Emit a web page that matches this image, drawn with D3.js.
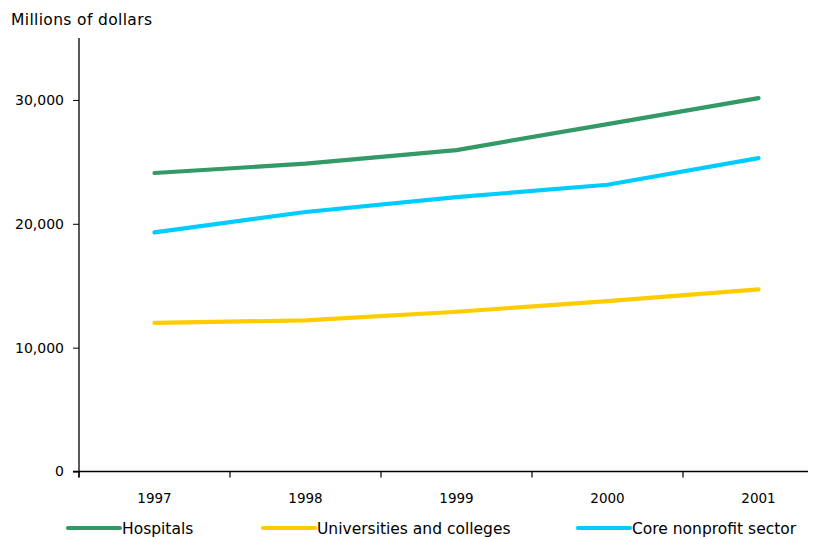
<!DOCTYPE html>
<html>
<head>
<meta charset="utf-8">
<script src="https://cdn.jsdelivr.net/npm/d3@7"></script>
<style>
  body { margin: 0; background: #fff; }
  svg text { font-family: "DejaVu Sans", Verdana, sans-serif; fill: #000; }
</style>
</head>
<body>
<div class="chart-div"></div>
<script>
'use strict';

var years = ["1997", "1998", "1999", "2000", "2001"];
var hospitals = [24100, 24850, 25950, 28050, 30150];
var universities = [12000, 12200, 12900, 13750, 14700];
var coreNonprofit = [19300, 20950, 22150, 23150, 25300];
var yTicks = [0, 10000, 20000, 30000];

var seriesNames = ["Hospitals", "Universities and colleges", "Core nonprofit sector"];
var seriesColors = ["#339966", "#ffcc00", "#00ccff"];

var width = 820;
var height = 539;

function main() {
    var svg = d3.select(".chart-div").append("svg")
        .attr("width", width)
        .attr("height", height);

    // band scale, Excel-style: ticks between categories
    var x = d3.scaleBand()
        .domain(years)
        .range([79, 834]);

    var y = d3.scaleLinear()
        .domain([0, 35000])
        .range([471.5, 38]);

    // title
    svg.append("text")
        .attr("x", 11)
        .attr("y", 25)
        .attr("font-size", "15.5px")
        .attr("textLength", 141)
        .text("Millions of dollars");

    // y axis
    var yAxis = svg.append("g")
        .attr("transform", "translate(79,0)")
        .call(d3.axisLeft(y).tickValues(yTicks).tickSize(6).tickPadding(9)
            .tickFormat(d3.format(",")));
    yAxis.select(".domain").remove();
    yAxis.selectAll("text").attr("font-size", "14px").attr("font-family", "DejaVu Sans");
    yAxis.selectAll("line").attr("stroke", "#000");

    svg.append("line")
        .attr("x1", 79).attr("x2", 79)
        .attr("y1", y.range()[1]).attr("y2", y(0) + 6)
        .attr("stroke", "#000").attr("stroke-width", 1.3);

    // x axis line
    svg.append("line")
        .attr("x1", 73).attr("x2", 808)
        .attr("y1", y(0)).attr("y2", y(0))
        .attr("stroke", "#000").attr("stroke-width", 1.3);

    // x ticks at band boundaries
    svg.selectAll(".xtick")
        .data(years)
        .enter().append("line")
        .attr("class", "xtick")
        .attr("x1", d => x(d)).attr("x2", d => x(d))
        .attr("y1", y(0)).attr("y2", y(0) + 6)
        .attr("stroke", "#000").attr("stroke-width", 1.2);

    svg.selectAll(".xlabel")
        .data(years)
        .enter().append("text")
        .attr("class", "xlabel")
        .attr("x", d => x(d) + x.bandwidth() / 2)
        .attr("y", 503)
        .attr("font-size", "13.5px")
        .style("text-anchor", "middle")
        .text(d => d);

    // lines
    var allSeries = [hospitals, universities, coreNonprofit];
    var line = d3.line()
        .x((d, i) => x(years[i]) + x.bandwidth() / 2)
        .y(d => y(d));

    svg.selectAll(".series")
        .data(allSeries)
        .enter().append("path")
        .attr("class", "series")
        .attr("d", d => line(d))
        .attr("fill", "none")
        .attr("stroke", (d, i) => seriesColors[i])
        .attr("stroke-width", 4.2)
        .attr("stroke-linecap", "round")
        .attr("stroke-linejoin", "round");

    // legend
    var legendX = [68, 263, 578];
    var legend = svg.selectAll(".legend")
        .data(seriesNames)
        .enter().append("g")
        .attr("class", "legend")
        .attr("transform", (d, i) => `translate(${legendX[i]},528)`);

    legend.append("line")
        .attr("x1", 0).attr("x2", 52)
        .attr("y1", 0).attr("y2", 0)
        .attr("stroke", (d, i) => seriesColors[i])
        .attr("stroke-width", 4.2)
        .attr("stroke-linecap", "round");

    legend.append("text")
        .attr("x", 54)
        .attr("y", 5.5)
        .attr("font-size", "15.5px")
        .text(d => d);
}

main();
</script>
</body>
</html>
